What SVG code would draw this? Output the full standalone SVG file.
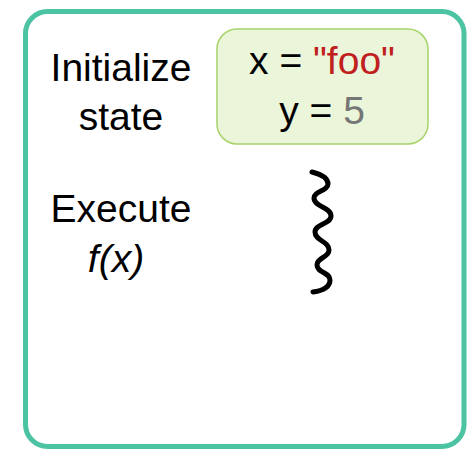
<svg xmlns="http://www.w3.org/2000/svg" width="467" height="449" viewBox="0 0 467 449">
<style>
.t{font-family:"Liberation Sans",Arial,sans-serif;font-size:39px;fill:#000;text-anchor:middle}
.i{font-style:italic}
.red{fill:#c0201e}
.gray{fill:#767676}
</style>
<rect width="467" height="449" fill="#fff"/>
<g id="frame">
<rect x="25.5" y="11.5" width="438.5" height="435" rx="22" fill="#fff" stroke="#4cc3a2" stroke-width="5"/>
</g>
<g id="init-label">
<text class="t" x="121" y="81">Initialize</text>
<text class="t" x="121" y="130">state</text>
</g>
<g id="state">
<rect x="217" y="29" width="211" height="115" rx="20" fill="#ebf5d9" stroke="#a8d26a" stroke-width="1.5"/>
<text class="t" x="322" y="74">x = <tspan class="red">"foo"</tspan></text>
<text class="t" x="322" y="124">y = <tspan class="gray">5</tspan></text>
</g>
<g id="exec-label">
<text class="t" x="121" y="222">Execute</text>
<text class="t i" x="116" y="272">f(x)</text>
</g>
<g id="connectors">
<path d="M312,172 C320,174 328,178 328,184 C328,191 314,191 314,198 C314,207 331,207 331,216 C331,224 315,224 315,232 C315,241 329,241 329,250 C329,258 317,257 317,265 C317,273 330,272 330,280 C330,288 320,291 313,292" fill="none" stroke="#000" stroke-width="5" stroke-linecap="round"/>
</g>
</svg>
